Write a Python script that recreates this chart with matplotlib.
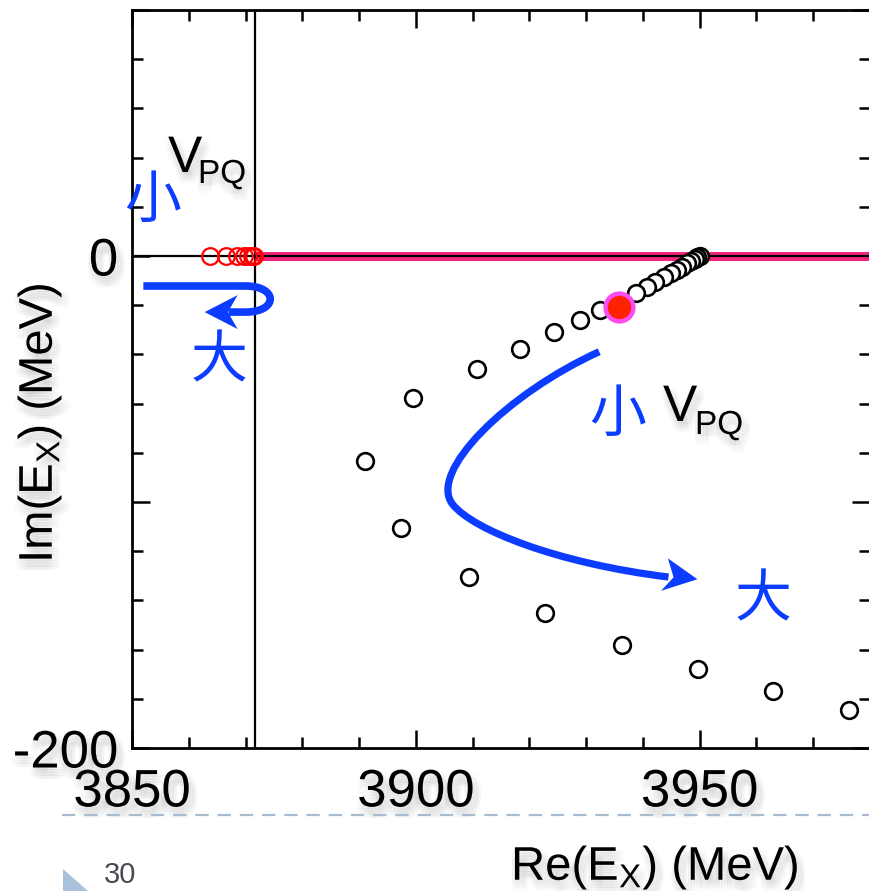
import numpy as np
import matplotlib
matplotlib.use("Agg")
import matplotlib.pyplot as plt
from matplotlib.path import Path
from matplotlib.patches import PathPatch, Polygon
import matplotlib.patheffects as pe

plt.rcParams['font.family'] = ['Liberation Sans', 'Noto Sans CJK JP', 'DejaVu Sans']
plt.rcParams['mathtext.fontset'] = 'custom'
plt.rcParams['mathtext.rm'] = 'Liberation Sans'
plt.rcParams['mathtext.it'] = 'Liberation Sans:italic'
plt.rcParams['mathtext.default'] = 'regular'

# ---------------- data ----------------
# pole trajectory (black open circles), Re and Im in MeV
re_pole = [3950.0, 3949.6, 3949.1, 3948.4, 3947.7, 3946.9, 3946.0, 3944.9, 3943.7,
           3942.2, 3940.7, 3938.7, 3932.4, 3929.0, 3924.3, 3918.4, 3910.7, 3899.5,
           3891.0, 3897.4, 3909.4, 3922.7, 3936.4, 3949.7, 3963.0, 3976.3]
im_pole = [0.0, -0.5, -1.2, -2.0, -3.0, -4.3, -5.7, -7.0, -8.7,
           -10.4, -12.5, -15.2, -22.0, -26.0, -30.9, -37.8, -45.9, -57.8,
           -83.3, -110.4, -130.4, -145.2, -158.0, -168.0, -176.8, -184.6]
# bound states on the real axis (red open circles)
re_bound = [3863.8, 3866.5, 3868.5, 3869.7, 3870.4, 3871.1, 3871.5]
im_bound = [0.0, 0.0, 0.0, 0.0, 0.0, 0.0, 0.0]
# highlighted pole
re_star = [3935.8]
im_star = [-20.9]
# threshold (D0 D*0)
threshold = 3871.7

x_major = [3850, 3900, 3950]
x_labels = ['3850', '3900', '3950']
y_major = [-200, -100, 0, 100]
y_labels = ['-200', '', '0', '']

# ---------------- figure ----------------
W, H = 870, 891
fig = plt.figure(figsize=(W / 100, H / 100), dpi=100)
ax = fig.add_axes([132 / W, (H - 748) / H, (870 - 132) / W, (748 - 10) / H])
ax.set_xlim(3850, 3980)
ax.set_ylim(-200, 100)

# soft drop shadow: several faint offset copies
shadow = []
for dx in (-2, 0, 2, 4, 6):
    for dy in (-2, -4, -6, -8):
        shadow.append(pe.SimplePatchShadow(offset=(dx, dy), shadow_rgbFace='#666666', alpha=0.018))
shadow.append(pe.Normal())

blue = '#0b3cff'
pink = '#f4247f'

# pink line along real axis above threshold
ax.plot([threshold, 3980], [0, 0], color=pink, lw=6.5, solid_capstyle='butt', zorder=2)
ax.axhline(0, color='black', lw=1.6, zorder=3)
ax.axvline(threshold, color='black', lw=1.6, zorder=3)

ax.plot(re_pole, im_pole, linestyle='none', marker='o', ms=12, mfc='white',
        mec='black', mew=1.9, zorder=4)
ax.plot(re_bound, im_bound, linestyle='none', marker='o', ms=12, mfc='none',
        mec='#ff0000', mew=1.6, zorder=4)
ax.plot(re_star, im_star, linestyle='none', marker='o', ms=20, mfc='#ff2200',
        mec='#ff4cf0', mew=3.2, zorder=5)

# ---------------- arrows (annotations) ----------------
verts = [(3852.0, -12.2), (3870.0, -12.2),
         (3875.8, -12.2), (3875.8, -22.8), (3870.0, -22.8),
         (3867.0, -22.8)]
codes = [Path.MOVETO, Path.LINETO, Path.CURVE4, Path.CURVE4, Path.CURVE4, Path.LINETO]
ax.add_patch(PathPatch(Path(verts, codes), fill=False, edgecolor=blue, lw=5.5,
                       capstyle='butt', joinstyle='round', zorder=6))
ax.add_patch(Polygon([(3862.8, -22.8), (3868.6, -15.9), (3866.9, -22.8), (3868.6, -29.7)],
                     closed=True, facecolor=blue, edgecolor='none', zorder=6))

verts = [(3932.3, -38.9),
         (3916.0, -56.0), (3902.0, -88.0), (3906.5, -101.0),
         (3910.1, -111.4), (3925.0, -125.0), (3944.5, -130.5)]
codes = [Path.MOVETO, Path.CURVE4, Path.CURVE4, Path.CURVE4,
         Path.CURVE4, Path.CURVE4, Path.CURVE4]
ax.add_patch(PathPatch(Path(verts, codes), fill=False, edgecolor=blue, lw=5.2,
                       capstyle='butt', joinstyle='round', zorder=6))
ax.add_patch(Polygon([(3949.6, -131.4), (3944.4, -122.9), (3945.4, -130.6), (3943.2, -136.1)],
                     closed=True, facecolor=blue, edgecolor='none', zorder=6))

# ---------------- ticks ----------------
ax.set_xticks(x_major)
ax.set_xticklabels(x_labels)
ax.set_xticks(np.arange(3850, 3981, 10), minor=True)
ax.set_yticks(y_major)
ax.set_yticklabels(y_labels)
ax.set_yticks(np.arange(-200, 101, 20), minor=True)
ax.tick_params(which='both', direction='in', top=True, right=True, width=1.8,
               labelsize=38)
ax.tick_params(which='major', length=13)
ax.tick_params(which='minor', length=8)
ax.tick_params(axis='x', which='major', pad=14)
ax.tick_params(axis='y', which='major', pad=10)
for s in ax.spines.values():
    s.set_linewidth(2.0)
for lbl in ax.get_xticklabels() + ax.get_yticklabels():
    lbl.set_path_effects(shadow)


def px(x, y):
    return x / W, 1 - y / H


# axis labels
fig.text(*px(655, 880), r'Re(E$_{X}$) (MeV)', fontsize=34, ha='center', va='baseline',
         path_effects=shadow)
fig.text(*px(40, 423), r'Im(E$_{X}$) (MeV)', fontsize=34, ha='center', va='center',
         rotation=90, path_effects=shadow)

# annotation texts
cjk = ['Noto Sans CJK JP']
fig.text(*px(168, 172), 'V', fontsize=37, ha='left', va='baseline', path_effects=shadow)
fig.text(*px(198, 183), 'PQ', fontsize=24, ha='left', va='baseline', path_effects=shadow)
fig.text(*px(153, 201), '小', fontsize=41, family=cjk, color=blue, ha='center', va='center')
fig.text(*px(219, 361), '大', fontsize=41, family=cjk, color=blue, ha='center', va='center')
fig.text(*px(618, 415), '小', fontsize=41, family=cjk, color=blue, ha='center', va='center')
fig.text(*px(663, 421), 'V', fontsize=37, ha='left', va='baseline', path_effects=shadow)
fig.text(*px(695, 434), 'PQ', fontsize=24, ha='left', va='baseline', path_effects=shadow)
fig.text(*px(763, 600), '大', fontsize=41, family=cjk, color=blue, ha='center', va='center')

# slide decorations
fig.add_artist(plt.Line2D([62 / W, 1.0], [1 - 815 / H] * 2, color='#a9bccf', lw=1.6,
                          linestyle=(0, (6, 4)), transform=fig.transFigure))
fig.add_artist(Polygon([px(63, 869), px(63, 913), px(88, 891)], closed=True,
                       facecolor='#a9c1d9', edgecolor='none', transform=fig.transFigure))
fig.text(*px(104, 889), '30', fontsize=21, color='#4a4a55', ha='left', va='bottom')

fig.savefig('out.png', dpi=100)
